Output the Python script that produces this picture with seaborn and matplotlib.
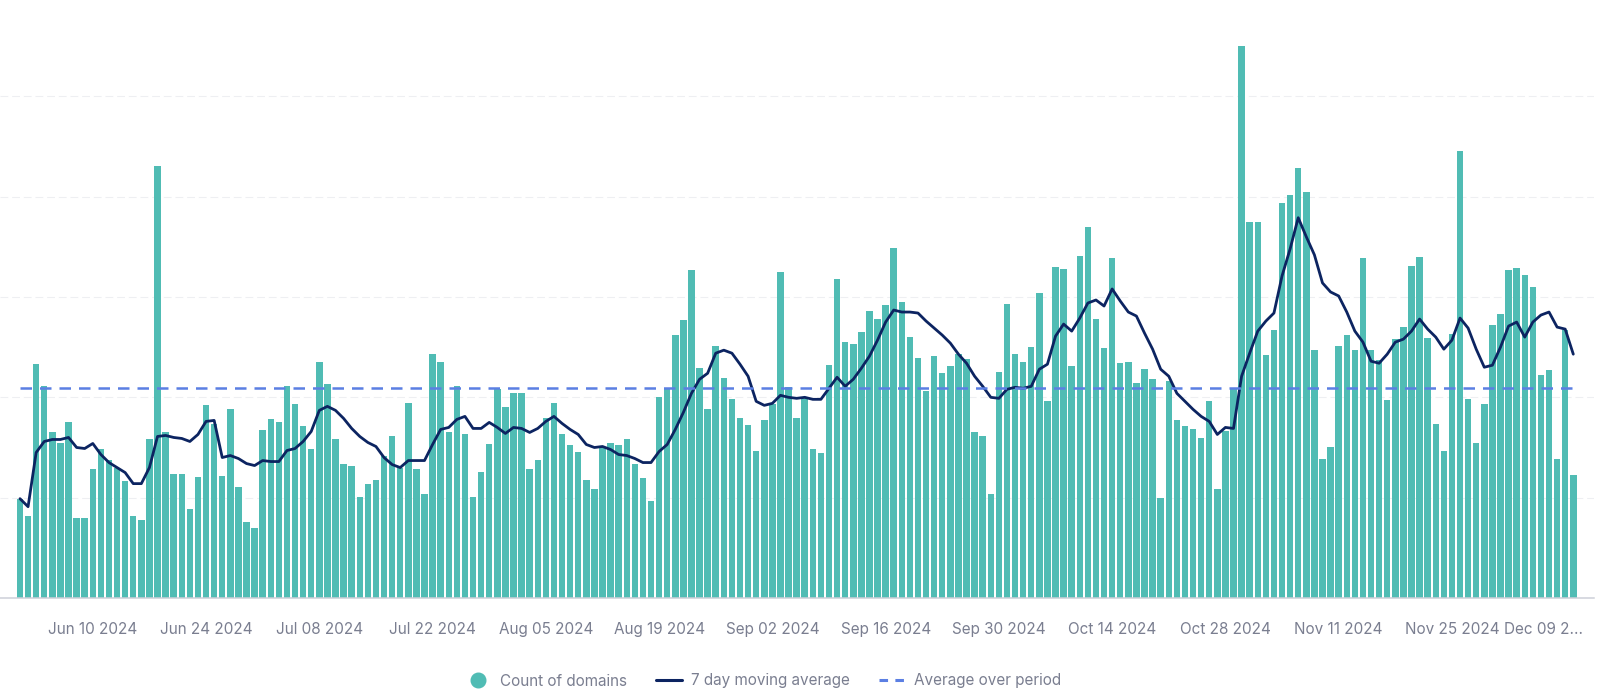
import numpy as np
import pandas as pd
import matplotlib
matplotlib.use("Agg")
import matplotlib.pyplot as plt
import matplotlib.transforms as mtransforms
from matplotlib.lines import Line2D
import seaborn as sns

# daily values (one per day from Jun 1 2024)
start_date = "2024-06-01"

domain_counts = [
    99, 82, 233, 211, 165, 154, 175, 80, 80, 129,
    149, 138, 130, 117, 82, 78, 158, 431, 165, 124,
    124, 89, 121, 192, 173, 122, 188, 111, 76, 70,
    167, 178, 175, 211, 193, 171, 149, 235, 213, 158,
    134, 132, 101, 114, 118, 142, 161, 130, 194, 129,
    104, 243, 235, 165, 211, 163, 101, 126, 153, 208,
    190, 204, 204, 129, 138, 179, 194, 163, 152, 146,
    118, 109, 150, 154, 152, 158, 134, 120, 97, 200,
    208, 262, 277, 327, 229, 188, 251, 219, 198, 179,
    172, 147, 177, 193, 325, 210, 179, 199, 149, 145,
    232, 318, 255, 253, 265, 286, 278, 292, 349, 295,
    260, 239, 206, 241, 224, 231, 243, 238, 165, 161,
    104, 225, 293, 243, 235, 250, 304, 196, 330, 328,
    231, 341, 370, 278, 249, 339, 234, 235, 214, 228,
    218, 100, 216, 177, 171, 168, 159, 196, 109, 166,
    208, 550, 375, 375, 242, 267, 394, 402, 429, 405,
    247, 139, 150, 251, 262, 247, 339, 247, 237, 197,
    258, 270, 331, 340, 259, 173, 147, 263, 446, 198,
    154, 193, 272, 283, 327, 329, 322, 310, 222, 227,
    139, 267, 123,
]

moving_avg_7d = [
    99, 91, 145, 156, 158, 158, 160, 150, 149, 154,
    143, 135, 130, 125, 114, 114, 130, 161, 162, 160,
    159, 156, 163, 176, 177, 140, 142, 139, 134, 132,
    137, 136, 136, 147, 149, 156, 166, 187, 191, 187,
    179, 169, 161, 155, 151, 140, 133, 130, 137, 137,
    137, 153, 168, 170, 178, 181, 169, 169, 175, 170,
    164, 170, 169, 165, 169, 176, 181, 174, 168, 163,
    153, 150, 151, 148, 143, 142, 139, 135, 135, 146,
    153, 168, 185, 204, 218, 224, 244, 247, 244, 233,
    221, 196, 192, 194, 202, 200, 199, 200, 198, 198,
    209, 220, 211, 218, 229, 241, 257, 275, 287, 285,
    285, 284, 276, 269, 262, 254, 243, 234, 221, 211,
    200, 199, 208, 210, 209, 211, 228, 233, 261, 273,
    266, 279, 294, 297, 291, 308, 296, 285, 281, 264,
    248, 228, 221, 204, 196, 188, 181, 176, 163, 170,
    169, 221, 244, 266, 276, 284, 321, 348, 379, 360,
    342, 314, 305, 301, 285, 266, 255, 236, 234, 243,
    255, 258, 266, 278, 268, 260, 248, 257, 279, 269,
    248, 230, 232, 250, 271, 275, 260, 275, 282, 285,
    270, 268, 243,
]

average_over_period = 209

tick_dates = ["2024-06-10", "2024-06-24", "2024-07-08", "2024-07-22", "2024-08-05",
              "2024-08-19", "2024-09-02", "2024-09-16", "2024-09-30", "2024-10-14",
              "2024-10-28", "2024-11-11", "2024-11-25", "2024-12-09"]
tick_labels = ["Jun 10 2024", "Jun 24 2024", "Jul 08 2024", "Jul 22 2024", "Aug 05 2024",
               "Aug 19 2024", "Sep 02 2024", "Sep 16 2024", "Sep 30 2024", "Oct 14 2024",
               "Oct 28 2024", "Nov 11 2024", "Nov 25 2024", "Dec 09 2..."]

bar_color = "#50BCB4"
line_color = "#0C2461"
avg_color = "#5B7FE3"
text_color = "#7A7E90"

dates = pd.date_range(start_date, periods=len(domain_counts), freq="D")
df = pd.DataFrame({
    "day": np.arange(len(dates)),
    "count": domain_counts,
    "ma7": moving_avg_7d,
})
tick_pos = [(pd.Timestamp(d) - dates[0]).days for d in tick_dates]

sns.set_theme(style="white")
plt.rcParams["font.family"] = ["Inter", "DejaVu Sans"]

fig = plt.figure(figsize=(16, 6.96), dpi=100)
ax = fig.add_axes([0, 98 / 696, 1594 / 1600, 598 / 696])

# bars
sns.barplot(data=df, x="day", y="count", native_scale=True, color=bar_color,
            saturation=1, width=0.8, edgecolor="none", linewidth=0, ax=ax)

# 7 day moving average
sns.lineplot(data=df, x="day", y="ma7", color=line_color, linewidth=2.0,
             ax=ax, legend=False, solid_joinstyle="round", solid_capstyle="round")

# average over period
ax.hlines(average_over_period, df["day"].iloc[0], df["day"].iloc[-1],
          colors=avg_color, linewidth=1.8, linestyles=(0, (4.6, 3.2)))

ax.set_xlim(-2.47, 194.56)
ax.set_ylim(0, 596)
ax.set_yticks([100, 200, 300, 400, 500])
ax.tick_params(axis="y", length=0, labelleft=False)
ax.grid(axis="y", color="#EEEFF2", linewidth=0.8, linestyle=(0, (7, 3.5)))
ax.set_axisbelow(True)

ax.set_xticks(tick_pos)
ax.set_xticklabels(tick_labels)
ax.tick_params(axis="x", length=9.5, width=0.8, color="#C9CCD4", pad=8,
               labelsize=11, labelcolor=text_color)
ax.set_xlabel("")
ax.set_ylabel("")

for side in ["left", "top", "right"]:
    ax.spines[side].set_visible(False)
ax.spines["bottom"].set_color("#CDD0D8")
ax.spines["bottom"].set_linewidth(1.1)

# last label is clipped in the original, nudge it left
last = ax.get_xticklabels()[-1]
last.set_transform(last.get_transform() +
                   mtransforms.ScaledTranslation(-22 / 100, 0, fig.dpi_scale_trans))

handles = [
    Line2D([], [], marker="o", linestyle="none", markersize=10.5,
           markerfacecolor=bar_color, markeredgecolor=bar_color),
    Line2D([], [], color=line_color, linewidth=2.2),
    Line2D([], [], color=avg_color, linewidth=2.2, linestyle=(0, (2.8, 2.4))),
]
labels = ["Count of domains", "7 day moving average", "Average over period"]
fig.legend(handles, labels, loc="center", bbox_to_anchor=(0.477, 1 - 681 / 696),
           ncol=3, frameon=False, fontsize=11, labelcolor=text_color,
           handlelength=1.7, handletextpad=0.6, columnspacing=1.9)

fig.savefig("out.png", dpi=100)
